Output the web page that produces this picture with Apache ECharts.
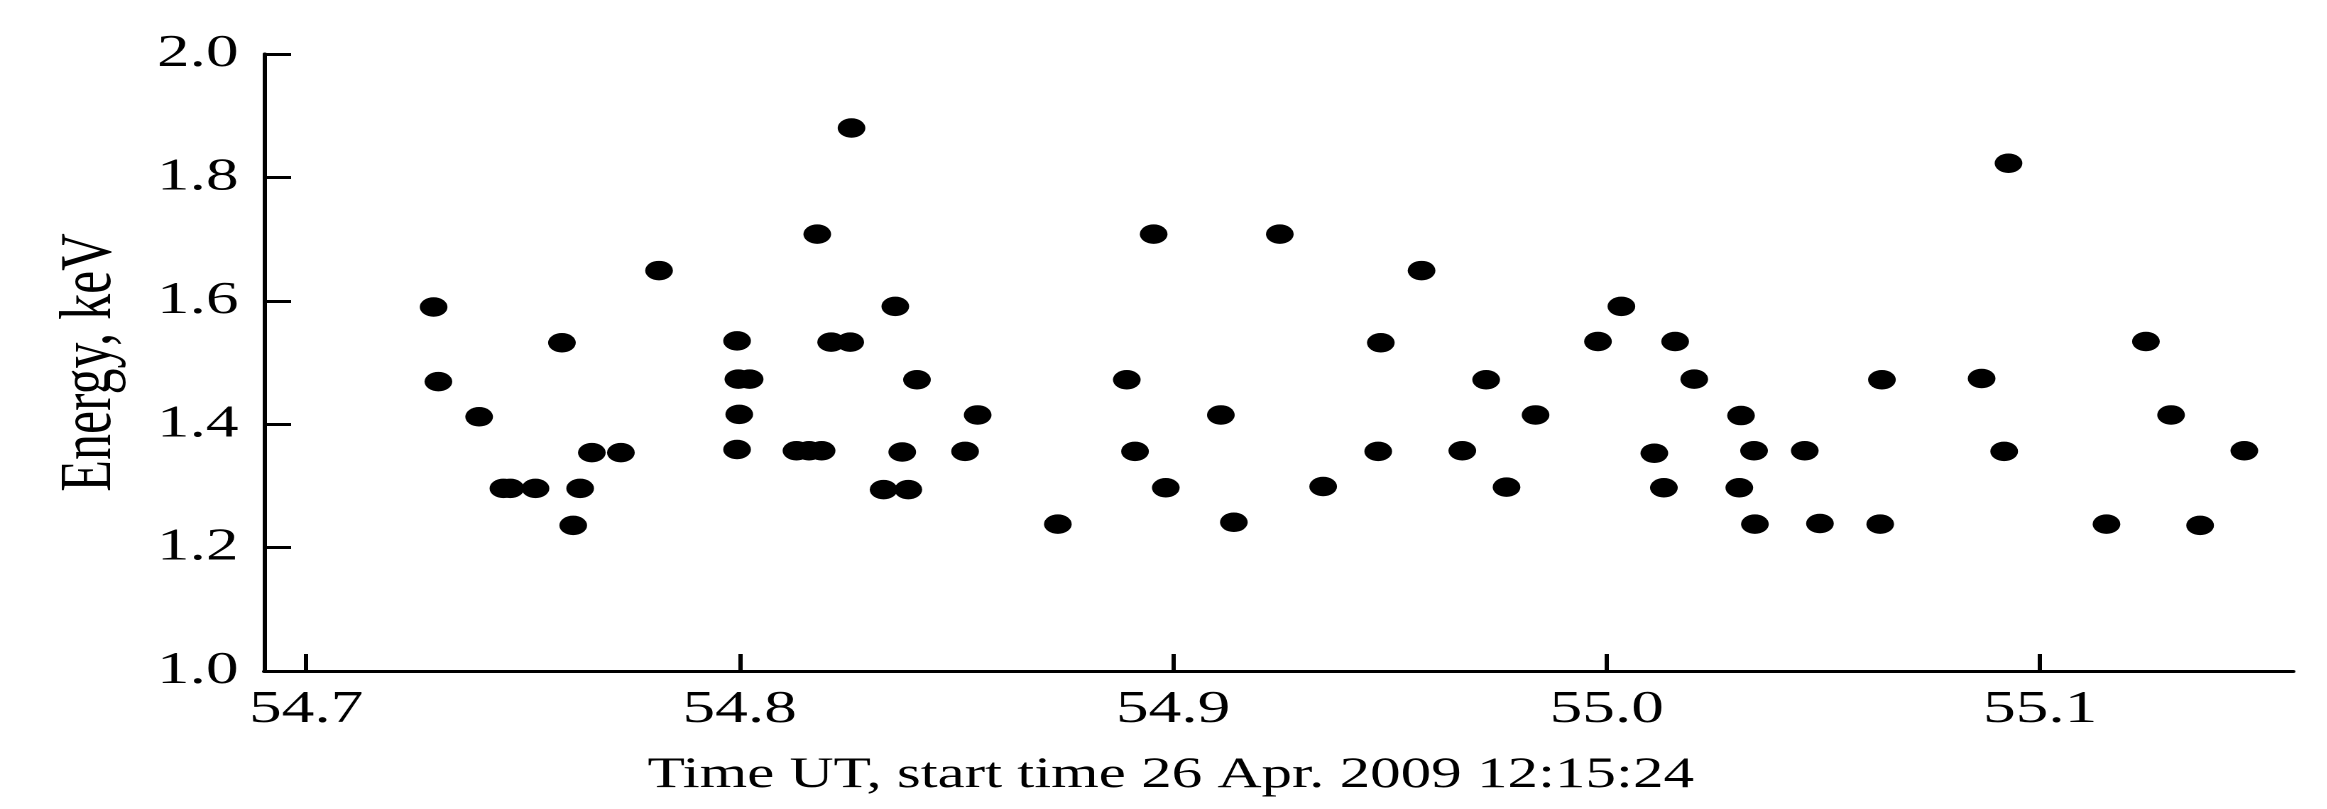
<!DOCTYPE html>
<html>
<head>
<meta charset="utf-8">
<script src="https://cdn.jsdelivr.net/npm/echarts@6/dist/echarts.min.js"></script>
<style>
  html, body { margin: 0; padding: 0; background: #fff; overflow: hidden; }
  /* the reference is a horizontally stretched print, so draw narrow and stretch */
  #chart { width: 1639px; height: 809px; transform: scaleX(1.42); transform-origin: 0 0; }
</style>
</head>
<body>
<div id="chart"></div>
<script>
const timeValues = [
  54.7294, 54.7305, 54.7399, 54.7455, 54.7471, 54.7529, 54.7590, 54.7616, 54.7632, 54.7659,
  54.7726, 54.7814, 54.7994, 54.7997, 54.8023, 54.7999, 54.7994, 54.8131, 54.8160, 54.8189,
  54.8179, 54.8211, 54.8255, 54.8258, 54.8359, 54.8409, 54.8375, 54.8332, 54.8389, 54.8520,
  54.8549, 54.8734, 54.8893, 54.8912, 54.8955, 54.8983, 54.9110, 54.9140, 54.9246, 54.9346,
  54.9473, 54.9479, 54.9573, 54.9667, 54.9722, 54.9769, 54.9836, 54.9980, 55.0034, 55.0110,
  55.0132, 55.0158, 55.0202, 55.0306, 55.0310, 55.0340, 55.0342, 55.0457, 55.0492, 55.0631,
  55.0635, 55.0865, 55.0917, 55.0927, 55.1153, 55.1244, 55.1302, 55.1369, 55.1471
]
const energyValues = [
  1.590, 1.469, 1.412, 1.296, 1.296, 1.296, 1.532, 1.236, 1.296, 1.354,
  1.354, 1.649, 1.535, 1.473, 1.473, 1.416, 1.359, 1.357, 1.357, 1.357,
  1.708, 1.533, 1.533, 1.880, 1.591, 1.472, 1.355, 1.294, 1.294, 1.356,
  1.415, 1.238, 1.472, 1.356, 1.708, 1.297, 1.415, 1.241, 1.708, 1.299,
  1.356, 1.532, 1.649, 1.357, 1.472, 1.298, 1.415, 1.534, 1.591, 1.353,
  1.297, 1.534, 1.473, 1.297, 1.414, 1.357, 1.238, 1.357, 1.239, 1.238,
  1.472, 1.474, 1.356, 1.823, 1.238, 1.534, 1.415, 1.236, 1.357
]
const xTicks = [54.7, 54.8, 54.9, 55.0, 55.1]
const xTitle = 'Time UT, start time 26 Apr. 2009 12:15:24'
const yTitle = 'Energy, keV'

const font = 'Liberation Serif'
const chart = echarts.init(document.getElementById('chart'), null, { devicePixelRatio: 2 })

const points = timeValues.map((t, i) => [t, energyValues[i]])

chart.setOption({
  animation: false,
  backgroundColor: '#fff',
  grid: { left: 186, right: 24, top: 54, bottom: 138 },
  xAxis: {
    type: 'value',
    min: 54.6903,
    max: 55.1584,
    name: xTitle,
    nameLocation: 'middle',
    nameGap: 83,
    // title sits left of the plot centre in the original
    nameTextStyle: { fontFamily: font, fontSize: 43, color: '#000', padding: [0, 152, 0, 0] },
    axisLine: { show: true, onZero: false, lineStyle: { color: '#000', width: 3 } },
    axisTick: { show: true, inside: true, length: 17, customValues: xTicks, lineStyle: { color: '#000', width: 3 } },
    axisLabel: {
      customValues: xTicks,
      margin: 16,
      fontFamily: font,
      fontSize: 46,
      color: '#000',
      formatter: v => v.toFixed(1)
    },
    splitLine: { show: false }
  },
  yAxis: {
    type: 'value',
    min: 1,
    max: 2,
    interval: 0.2,
    name: yTitle,
    nameLocation: 'middle',
    nameGap: 96,
    nameTextStyle: { fontFamily: font, fontSize: 52, color: '#000' },
    axisLine: { show: true, lineStyle: { color: '#000', width: 3 } },
    axisTick: { show: true, inside: true, length: 19, lineStyle: { color: '#000', width: 3 } },
    axisLabel: {
      margin: 18,
      fontFamily: font,
      fontSize: 46,
      color: '#000',
      formatter: v => v.toFixed(1)
    },
    splitLine: { show: false }
  },
  series: [{
    type: 'scatter',
    data: points,
    symbol: 'circle',
    symbolSize: 19.5,
    itemStyle: { color: '#000', opacity: 1 },
    emphasis: { disabled: true }
  }]
})
</script>
</body>
</html>
